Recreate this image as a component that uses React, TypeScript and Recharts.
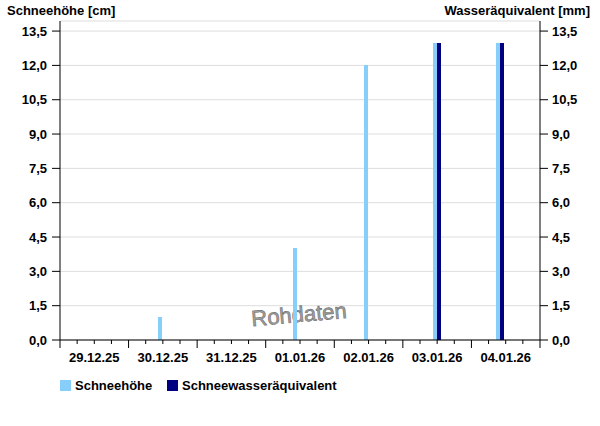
import * as React from "react";
import { Bar, CartesianGrid, ComposedChart, XAxis, YAxis } from "recharts";

// hours since 29.12.25 00:00
const hours = [36, 83, 108, 132, 154];
const schneehoehe = [1.0, 4.0, 12.0, 13.0, 13.0];
const wasseraequivalent = [null, null, null, 13.0, 13.0];

const dayLabels = ["29.12.25", "30.12.25", "31.12.25", "01.01.26", "02.01.26", "03.01.26", "04.01.26"];
const xTicks = Array.from({ length: 29 }, (_, i) => i * 6);
const yTicks = [0, 1.5, 3, 4.5, 6, 7.5, 9, 10.5, 12, 13.5];

const data = hours.map((hour, i) => ({
  hour,
  schnee: schneehoehe[i],
  wasser: wasseraequivalent[i],
}));

const FONT = '"Liberation Sans", Arial, sans-serif';
const LIGHT = "#87cefa";
const DARK = "#000080";

function formatTick(v: number) {
  return v.toFixed(1).replace(".", ",");
}

function DayTick(props: any) {
  const { x, y, payload } = props;
  const h = payload.value as number;
  const major = h % 24 === 0;
  return (
    <g>
      <line x1={x} x2={x} y1={y} y2={y + (major ? 8 : 4)} stroke="#000" strokeWidth={1} />
      {h % 24 === 12 && (
        <text x={x} y={y + 22} textAnchor="middle" fontFamily={FONT} fontSize={13} fontWeight="bold" fill="#000">
          {dayLabels[Math.floor(h / 24)]}
        </text>
      )}
    </g>
  );
}

export default function App() {
  const tickStyle = { fill: "#000", fontSize: 13, fontWeight: "bold" as const, fontFamily: FONT };
  return (
    <div style={{ position: "absolute", left: 0, top: 0, width: 600, height: 426, background: "#fff", fontFamily: FONT }}>
      <div style={{ position: "absolute", left: 7, top: 4, fontSize: 13, lineHeight: "13px", fontWeight: "bold" }}>
        Schneehöhe [cm]
      </div>
      <div style={{ position: "absolute", right: 10, top: 4, fontSize: 13, lineHeight: "13px", fontWeight: "bold" }}>
        Wasseräquivalent [mm]
      </div>
      <ComposedChart
        width={600}
        height={426}
        data={data}
        margin={{ top: 21, right: 0, bottom: 56, left: 0 }}
        barGap={0}
      >
        <CartesianGrid vertical={false} stroke="#dddddd" yAxisId="left" />
        <XAxis
          dataKey="hour"
          type="number"
          domain={[0, 168]}
          ticks={xTicks}
          interval={0}
          height={30}
          tickSize={0}
          tickMargin={0}
          tickLine={false}
          axisLine={{ stroke: "#000" }}
          tick={<DayTick />}
          allowDataOverflow
        />
        <YAxis
          yAxisId="left"
          orientation="left"
          width={60}
          domain={[0, 13.94]}
          ticks={yTicks}
          interval={0}
          tickSize={8}
          tickMargin={5}
          tickFormatter={formatTick}
          tick={tickStyle}
          axisLine={{ stroke: "#000" }}
          tickLine={{ stroke: "#000" }}
          allowDataOverflow
        />
        <YAxis
          yAxisId="right"
          orientation="right"
          width={60}
          domain={[0, 13.94]}
          ticks={yTicks}
          interval={0}
          tickSize={8}
          tickMargin={4}
          tickFormatter={formatTick}
          tick={tickStyle}
          axisLine={{ stroke: "#000" }}
          tickLine={{ stroke: "#000" }}
          allowDataOverflow
        />
        <Bar yAxisId="left" dataKey="schnee" fill={LIGHT} barSize={4} shapeRendering="crispEdges" isAnimationActive={false} />
        <Bar yAxisId="right" dataKey="wasser" fill={DARK} barSize={4} shapeRendering="crispEdges" isAnimationActive={false} />
        <text
          x={299}
          y={322}
          textAnchor="middle"
          transform="rotate(-5 299 315)"
          fontFamily={FONT}
          fontSize={22}
          fill="#a0a0a0"
          stroke="#6f6f6f"
          strokeWidth={0.6}
        >
          Rohdaten
        </text>
      </ComposedChart>
      <div style={{ position: "absolute", left: 60, top: 380, width: 11, height: 11, background: LIGHT }} />
      <div style={{ position: "absolute", left: 75, top: 379, fontSize: 13, lineHeight: "13px", fontWeight: "bold" }}>
        Schneehöhe
      </div>
      <div style={{ position: "absolute", left: 167, top: 380, width: 11, height: 11, background: DARK }} />
      <div style={{ position: "absolute", left: 182, top: 379, fontSize: 13, lineHeight: "13px", fontWeight: "bold" }}>
        Schneewasseräquivalent
      </div>
    </div>
  );
}
